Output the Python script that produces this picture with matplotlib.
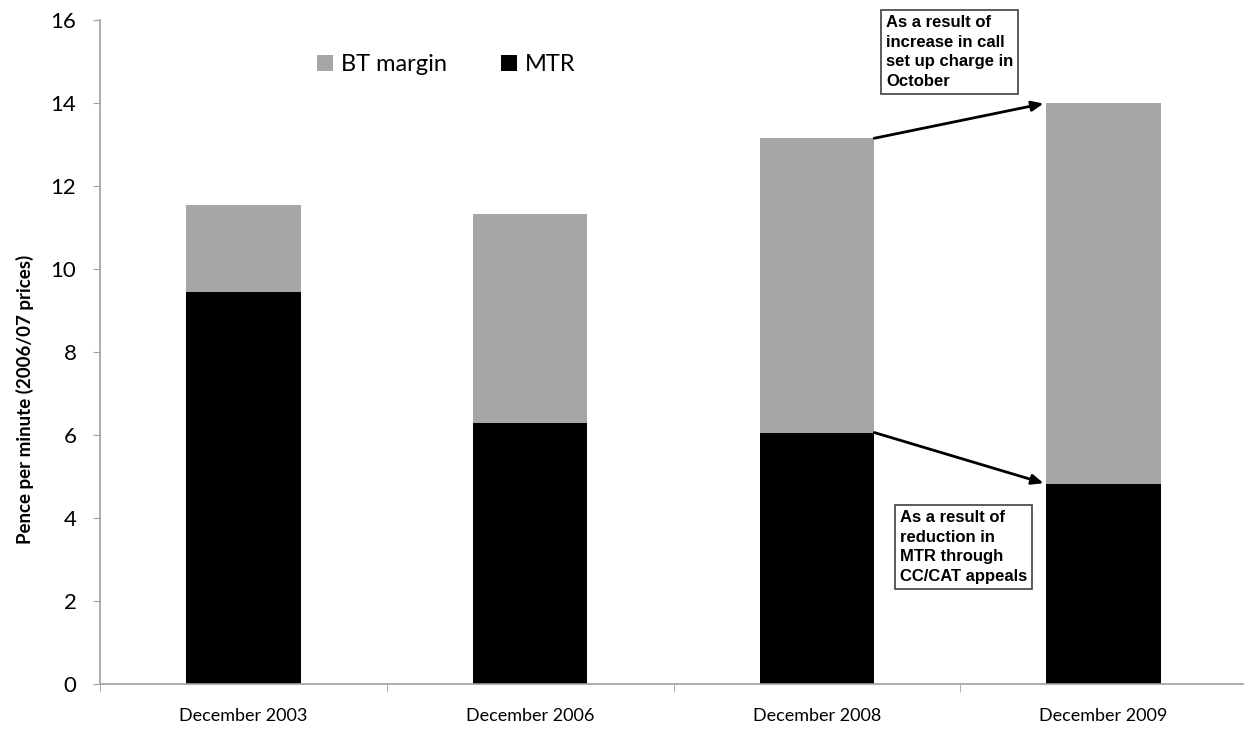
import matplotlib
matplotlib.use("Agg")
import matplotlib.pyplot as plt

categories = ["December 2003", "December 2006", "December 2008", "December 2009"]
mtr = [9.45, 6.28, 6.06, 4.82]
bt_margin = [2.10, 5.04, 7.09, 9.18]
y_ticks = [0, 2, 4, 6, 8, 10, 12, 14, 16]

W, H = 1244, 729
fig = plt.figure(figsize=(W / 100, H / 100), dpi=100)
ax = fig.add_axes([100 / W, (H - 684) / H, 1147 / W, 664 / H])

x = list(range(len(categories)))
black, grey = "#000000", "#a6a6a6"
ax.bar(x, mtr, width=0.4, color=black, label="MTR", zorder=2)
ax.bar(x, bt_margin, width=0.4, bottom=mtr, color=grey, label="BT margin", zorder=2)

ax.set_xlim(-0.5, len(categories) - 0.5)
ax.set_ylim(0, 16)
ax.set_yticks(y_ticks)
ax.set_xticks(x)
ax.set_xticklabels(categories, fontfamily="Lato", fontsize=13)
ax.set_xticks([i - 0.5 for i in range(len(categories) + 1)], minor=True)
ax.tick_params(axis="x", which="major", length=0, pad=17)
ax.tick_params(axis="x", which="minor", length=6, direction="out", color="#a0a0a0")
ax.tick_params(axis="y", length=5, direction="out", color="#a0a0a0", pad=12, labelsize=16)
for lab in ax.get_yticklabels():
    lab.set_fontfamily("Lato")

for side in ("top", "right"):
    ax.spines[side].set_visible(False)
for side in ("left", "bottom"):
    ax.spines[side].set_color("#a0a0a0")
    ax.spines[side].set_linewidth(1.2)

ax.set_ylabel("Pence per minute (2006/07 prices)", fontfamily="Lato",
              fontweight="bold", fontsize=13.5)
ax.yaxis.set_label_coords(-0.0575, 0.428)

handles, labels = ax.get_legend_handles_labels()
leg = ax.legend(handles[::-1], labels[::-1], loc="upper left",
                bbox_to_anchor=(196 / 1147, 0.981), ncol=2, frameon=False,
                prop={"family": "Lato", "size": 17}, handlelength=0.66,
                handleheight=0.66, handletextpad=0.34, columnspacing=2.3)

note_font = dict(fontfamily="Liberation Sans", fontweight="bold", fontsize=12,
                 linespacing=1.38, va="top", ha="left")
box = dict(boxstyle="square,pad=0.3", facecolor="white", edgecolor="#404040", linewidth=1.2)

arrow = dict(arrowstyle="-|>,head_length=0.7,head_width=0.3",
             color="black", lw=2, shrinkA=0, shrinkB=2)
ax.annotate("", xy=(2.8, mtr[3] + bt_margin[3]), xytext=(2.2, mtr[2] + bt_margin[2]),
            arrowprops=arrow, zorder=5)
ax.annotate("", xy=(2.8, mtr[3]), xytext=(2.2, mtr[2]),
            arrowprops=arrow, zorder=5)

fig.text(886 / W, 1 - 15 / H, "As a result of\nincrease in call\nset up charge in\nOctober",
         bbox=box, **note_font)
fig.text(900 / W, 1 - 510 / H, "As a result of\nreduction in\nMTR through\nCC/CAT appeals",
         bbox=box, **note_font)

fig.savefig("out.png", dpi=100)
